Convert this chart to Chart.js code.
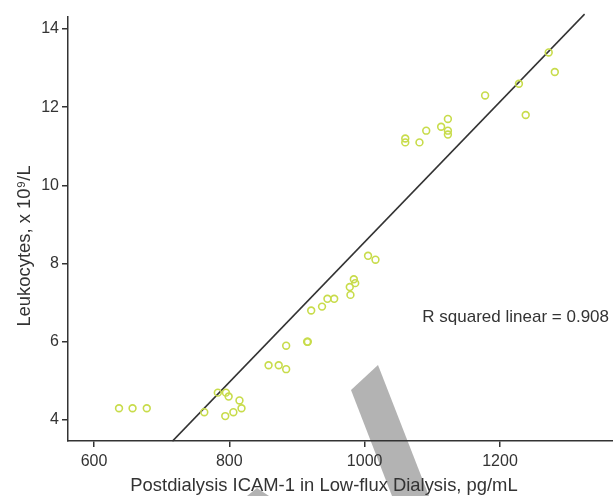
<!DOCTYPE html>
<html>
<head>
<meta charset="utf-8">
<script src="https://cdn.jsdelivr.net/npm/chart.js@4.4.1/dist/chart.umd.min.js"></script>
<style>
  html, body { margin: 0; padding: 0; background: #fff; overflow: hidden; }
  canvas { display: block; }
</style>
</head>
<body>
<canvas id="scatterIcam" width="613" height="496"></canvas>
<script>
// ICAM-1 (pg/mL) vs leukocytes (x10^9/L)
const icam = [637, 657, 678, 763, 783, 795, 799, 815, 818, 806, 794,
  858, 873, 884, 884, 915, 916, 921, 937, 945, 955, 979, 978, 984, 986,
  1005, 1016, 1060, 1060, 1081, 1091, 1113, 1123, 1123, 1123, 1178,
  1238, 1228, 1272, 1281];
const leuko = [4.3, 4.3, 4.3, 4.2, 4.7, 4.7, 4.6, 4.5, 4.3, 4.2, 4.1,
  5.4, 5.4, 5.3, 5.9, 6.0, 6.0, 6.8, 6.9, 7.1, 7.1, 7.2, 7.4, 7.6, 7.5,
  8.2, 8.1, 11.2, 11.1, 11.1, 11.4, 11.5, 11.7, 11.4, 11.3, 12.3,
  11.8, 12.6, 13.4, 12.9];
// fit line end points
const fitX = [716, 1325];
const fitY = [3.46, 14.38];
const xTicks = [600, 800, 1000, 1200];
const yTicks = [4, 6, 8, 10, 12, 14];

const ink = '#333333';
const pts = icam.map((v, i) => ({ x: v, y: leuko[i] }));
const fit = fitX.map((v, i) => ({ x: v, y: fitY[i] }));

const extras = {
  id: 'extras',
  beforeDraw(chart) {
    const c = chart.ctx;
    c.save();
    c.fillStyle = '#b3b3b3';
    c.beginPath();
    c.moveTo(351, 390); c.lineTo(378, 365); c.lineTo(429, 496); c.lineTo(392, 496);
    c.closePath(); c.fill();
    c.beginPath();
    c.moveTo(247, 496); c.lineTo(257, 488); c.lineTo(269, 496);
    c.closePath(); c.fill();
    c.restore();
  },
  afterDraw(chart) {
    const c = chart.ctx;
    c.save();
    c.fillStyle = ink;
    c.textBaseline = 'middle';
    c.font = '18.4px "Liberation Sans", Arial, sans-serif';
    c.textAlign = 'center';
    c.fillText('Postdialysis ICAM-1 in Low-flux Dialysis, pg/mL', 324, 486);
    c.translate(25, 246);
    c.rotate(-Math.PI / 2);
    c.fillText('Leukocytes, x 10\u2079/L', 0, 0);
    c.restore();
    c.save();
    c.fillStyle = ink;
    c.textBaseline = 'middle';
    c.textAlign = 'right';
    c.font = '17px "Liberation Sans", Arial, sans-serif';
    c.fillText('R squared linear = 0.908', 609, 317);
    c.restore();
  }
};

new Chart(document.getElementById('scatterIcam'), {
  type: 'scatter',
  data: {
    datasets: [{
      label: 'Leukocytes',
      data: pts,
      pointRadius: 3.4,
      pointHoverRadius: 3.4,
      pointBorderWidth: 1.6,
      borderColor: 'rgb(200, 220, 75)',
      backgroundColor: 'rgba(0,0,0,0)'
    }, {
      type: 'line',
      label: 'fit',
      data: fit,
      borderColor: ink,
      borderWidth: 1.5,
      pointRadius: 0,
      fill: false,
      clip: false
    }]
  },
  options: {
    responsive: false,
    animation: false,
    layout: { autoPadding: false, padding: { top: 17, right: 0, left: 0, bottom: 0 } },
    plugins: { legend: { display: false }, tooltip: { enabled: false } },
    scales: {
      x: {
        type: 'linear',
        min: 561.6,
        max: 1367,
        afterFit(s) { s.height = 55; s.paddingLeft = 0; s.paddingRight = 0; },
        afterBuildTicks(s) { s.ticks = xTicks.map(v => ({ value: v })); },
        ticks: {
          color: ink, font: { size: 16, family: '"Liberation Sans", Arial' }, padding: 5,
          callback: v => String(v)
        },
        grid: { drawOnChartArea: false, drawTicks: true, tickLength: 6, color: ink, lineWidth: 1.5 },
        border: { display: true, color: ink, width: 1.5 }
      },
      y: {
        min: 3.463,
        max: 14.307,
        afterFit(s) { s.width = 68; },
        afterBuildTicks(s) { s.ticks = yTicks.map(v => ({ value: v })); },
        ticks: { color: ink, font: { size: 16, family: '"Liberation Sans", Arial' }, padding: 3 },
        grid: { drawOnChartArea: false, drawTicks: true, tickLength: 6, color: ink, lineWidth: 1.5 },
        border: { display: true, color: ink, width: 1.5 }
      }
    }
  },
  plugins: [extras]
});
</script>
</body>
</html>
